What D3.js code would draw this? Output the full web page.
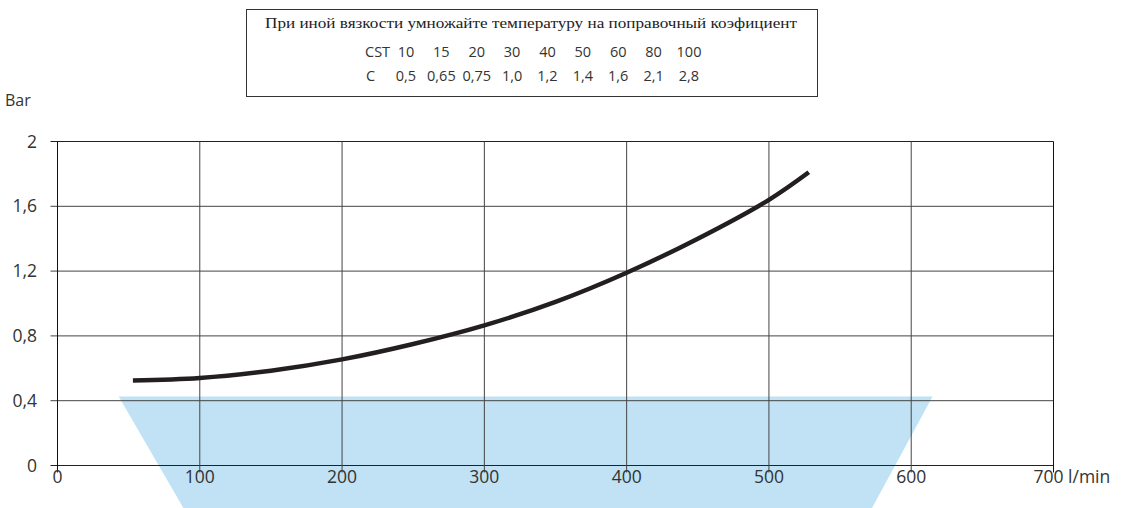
<!DOCTYPE html>
<html>
<head>
<meta charset="utf-8">
<script src="https://cdn.jsdelivr.net/npm/d3@7"></script>
<style>
  body { margin: 0; background: #fff; }
  svg { display: block; }
  text { font-family: "Open Sans", "DejaVu Sans", sans-serif; fill: #333; }
</style>
</head>
<body>
<div id="chart"></div>
<script>
// flow (l/min) vs pressure drop (bar)
const flow = [53, 100, 150, 200, 250, 300, 350, 400, 450, 500, 528];
const pressure = [0.525, 0.54, 0.585, 0.655, 0.75, 0.865, 1.01, 1.19, 1.4, 1.64, 1.81];

// blue working zone corners
const zoneFlow = [43, 615, 572, 89];
const zonePressure = [0.426, 0.426, -0.27, -0.27];

const xTicks = [0, 100, 200, 300, 400, 500, 600, 700];
const yTicks = [0, 0.4, 0.8, 1.2, 1.6, 2];

// viscosity correction table
const noteTitle = "При иной вязкости умножайте температуру на поправочный коэфициент";
const cst = ["10", "15", "20", "30", "40", "50", "60", "80", "100"];
const coef = ["0,5", "0,65", "0,75", "1,0", "1,2", "1,4", "1,6", "2,1", "2,8"];

const W = 1137, H = 508;
const svg = d3.select("#chart").append("svg")
  .attr("width", W)
  .attr("height", H);

let x = d3.scaleLinear().domain([0, 700]).range([57.5, 1053.5]);
let y = d3.scaleLinear().domain([0, 2]).range([465.5, 141.5]);

// zone
svg.append("path")
  .datum(zoneFlow.map((f, i) => [f, zonePressure[i]]))
  .attr("d", d3.line().x(d => x(d[0])).y(d => y(d[1])))
  .attr("fill", "#c0e2f4");

// grid
yTicks.forEach(t => {
  svg.append("line")
    .attr("x1", x(0) - 7).attr("x2", x(700))
    .attr("y1", y(t)).attr("y2", y(t))
    .attr("stroke", t == 2 || t == 0 ? "#222" : "#444")
    .attr("stroke-width", 1);
  svg.append("text")
    .attr("x", 37)
    .attr("y", y(t) + 6)
    .attr("text-anchor", "end")
    .attr("font-size", 17.5)
    .text(String(t).replace(".", ","));
});

xTicks.forEach(t => {
  svg.append("line")
    .attr("x1", x(t)).attr("x2", x(t))
    .attr("y1", y(2)).attr("y2", y(0) + 7)
    .attr("stroke", t == 0 || t == 700 ? "#111" : "#444")
    .attr("stroke-width", 1);
  svg.append("text")
    .attr("x", t == 700 ? x(t) - 20 : x(t))
    .attr("y", 483)
    .attr("text-anchor", t == 700 ? "start" : "middle")
    .attr("font-size", 17.5)
    .text(t == 700 ? "700 l/min" : t);
});

svg.append("text")
  .attr("x", 5)
  .attr("y", 106)
  .attr("font-size", 16)
  .text("Bar");

// curve
svg.append("path")
  .datum(flow.map((f, i) => [f, pressure[i]]))
  .attr("d", d3.line().x(d => x(d[0])).y(d => y(d[1])).curve(d3.curveCatmullRom.alpha(0.5)))
  .attr("fill", "none")
  .attr("stroke", "#231f20")
  .attr("stroke-width", 4.5);

// note box
svg.append("rect")
  .attr("x", 246.5).attr("y", 9.5)
  .attr("width", 571).attr("height", 87)
  .attr("fill", "#fff")
  .attr("stroke", "#333");

svg.append("text")
  .attr("x", 531)
  .attr("y", 28)
  .attr("text-anchor", "middle")
  .style("font-family", "'Liberation Serif', 'DejaVu Serif', serif")
  .style("fill", "#222")
  .attr("font-size", 15)
  .attr("textLength", 532)
  .attr("lengthAdjust", "spacingAndGlyphs")
  .text(noteTitle);

let col = d3.scalePoint().domain(d3.range(cst.length)).range([406, 689]);

svg.append("text").attr("x", 365).attr("y", 57).attr("font-size", 14.5).text("CST");
svg.append("text").attr("x", 366).attr("y", 81).attr("font-size", 14.5).text("C");

cst.forEach((c, i) => {
  svg.append("text")
    .attr("x", col(i)).attr("y", 57)
    .attr("text-anchor", "middle")
    .attr("font-size", 14.5)
    .text(c);
});
coef.forEach((c, i) => {
  svg.append("text")
    .attr("x", col(i)).attr("y", 81)
    .attr("text-anchor", "middle")
    .attr("font-size", 14.5)
    .text(c);
});
</script>
</body>
</html>
